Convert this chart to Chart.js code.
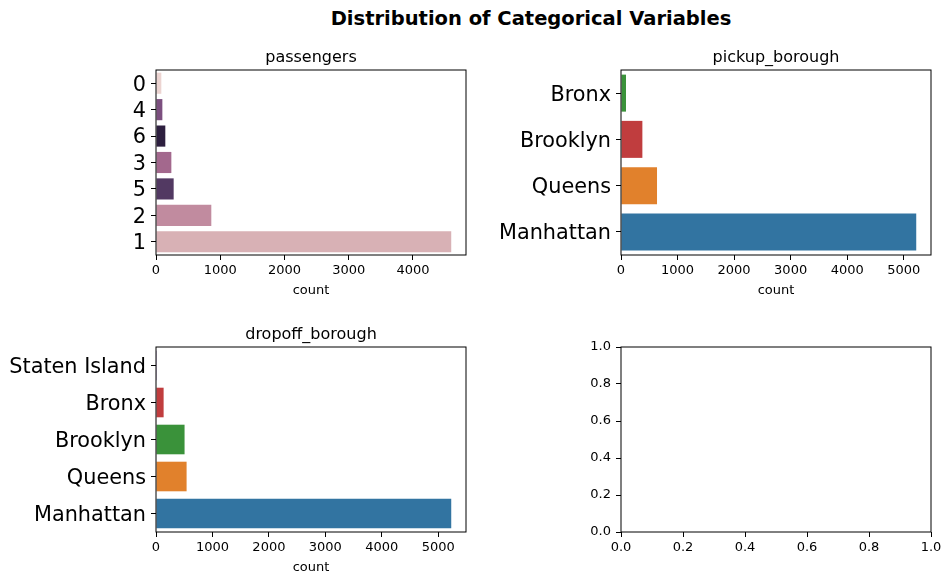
<!DOCTYPE html>
<html>
<head>
<meta charset="utf-8">
<script src="https://cdn.jsdelivr.net/npm/chart.js@4.4.0/dist/chart.umd.min.js"></script>
<style>
  body { margin: 0; background: #fff; }
  #wrap { position: relative; width: 952px; height: 585px; overflow: hidden; }
  canvas { position: absolute; }
  #suptitle {
    position: absolute; left: 531px; top: 9px; transform: translateX(-50%);
    font: bold 19.5px "DejaVu Sans"; line-height: 19px; white-space: nowrap; color: #000;
  }
</style>
</head>
<body>
<div id="wrap">
  <div id="suptitle">Distribution of Categorical Variables</div>
  <canvas id="c1"></canvas>
  <canvas id="c2"></canvas>
  <canvas id="c3"></canvas>
  <canvas id="c4"></canvas>
</div>
<script>
// data
const passengerLabels = ['0', '4', '6', '3', '5', '2', '1'];
const passengerCounts = [83, 99, 145, 239, 275, 861, 4596];
const passengerColors = ['#ecd4d1', '#7c4f7f', '#2d1f3f', '#a3688d', '#523962', '#c18b9f', '#d8b1b5'];

const pickupLabels = ['Bronx', 'Brooklyn', 'Queens', 'Manhattan'];
const pickupCounts = [88, 378, 637, 5221];
const pickupColors = ['#3a923a', '#c03d3e', '#e1812c', '#3274a1'];

const dropoffLabels = ['Staten Island', 'Bronx', 'Brooklyn', 'Queens', 'Manhattan'];
const dropoffCounts = [2, 135, 506, 542, 5230];
const dropoffColors = ['#9372b2', '#c03d3e', '#3a923a', '#e1812c', '#3274a1'];

const countTicks = [0, 1000, 2000, 3000, 4000, 5000];
const unitTicks = [0, 0.2, 0.4, 0.6, 0.8, 1.0];

const FONT = 'DejaVu Sans';
const TOPH = 24, BH = 45;

// draws the full black frame like matplotlib spines
const frame = {
  id: 'frame',
  afterDraw(chart) {
    const a = chart.chartArea, c = chart.ctx;
    c.save();
    c.strokeStyle = '#000';
    c.lineWidth = 1;
    c.strokeRect(a.left, a.top, a.right - a.left, a.bottom - a.top);
    c.restore();
  }
};

function place(id, box, lw, rw) {
  const cv = document.getElementById(id);
  const w = box.right - box.left + lw + rw;
  const h = box.bottom - box.top + TOPH + BH;
  cv.width = w; cv.height = h;
  cv.style.left = (box.left - lw) + 'px';
  cv.style.top = (box.top - TOPH) + 'px';
  cv.style.width = w + 'px';
  cv.style.height = h + 'px';
  return cv;
}

function tickGrid() {
  return { drawOnChartArea: false, tickLength: 5, color: '#000', offset: false };
}

function fixedTicks(list) {
  return s => { s.ticks = list.filter(v => v <= s.max + 1e-9).map(v => ({ value: v })); };
}

function barChart(id, title, labels, values, colors, box, lw, rw) {
  const cv = place(id, box, lw, rw);
  return new Chart(cv, {
    type: 'bar',
    data: {
      labels: labels,
      datasets: [{ data: values, backgroundColor: colors, barPercentage: 0.8, categoryPercentage: 1.0 }]
    },
    options: {
      indexAxis: 'y',
      responsive: false,
      animation: false,
      devicePixelRatio: 1,
      layout: { padding: { left: 0, top: 0, right: rw, bottom: 0 } },
      plugins: {
        legend: { display: false },
        tooltip: { enabled: false },
        title: {
          display: true, fullSize: false, text: title, color: '#000',
          font: { family: FONT, size: 16, weight: 'normal', lineHeight: 1.2 },
          padding: { top: 2, bottom: 2.8 }
        }
      },
      scales: {
        x: {
          type: 'linear', min: 0, max: Math.max(...values) * 1.05,
          afterBuildTicks: fixedTicks(countTicks),
          afterFit: s => { s.height = BH; },
          ticks: { color: '#000', font: { family: FONT, size: 13 }, padding: 3,
                   maxRotation: 0, autoSkip: false, callback: v => String(v) },
          grid: tickGrid(),
          border: { display: false },
          title: { display: true, text: 'count', color: '#000', font: { family: FONT, size: 13 },
                   padding: { top: 0, bottom: 2 } }
        },
        y: {
          type: 'category', offset: true,
          afterFit: s => { s.width = lw; },
          ticks: { color: '#000', font: { family: FONT, size: 20.8 }, padding: 5, autoSkip: false, labelOffset: 2 },
          grid: tickGrid(),
          border: { display: false }
        }
      }
    },
    plugins: [frame]
  });
}

barChart('c1', 'passengers', passengerLabels, passengerCounts, passengerColors,
  { left: 156, top: 70, right: 466, bottom: 255 }, 156, 20);
barChart('c2', 'pickup_borough', pickupLabels, pickupCounts, pickupColors,
  { left: 621, top: 70, right: 931, bottom: 255 }, 140, 21);
barChart('c3', 'dropoff_borough', dropoffLabels, dropoffCounts, dropoffColors,
  { left: 156, top: 347, right: 466, bottom: 532 }, 156, 20);

// empty fourth axes
(function () {
  const box = { left: 621, top: 347, right: 931, bottom: 532 };
  const lw = 60, rw = 21;
  const cv = place('c4', box, lw, rw);
  const unitAxis = (isX) => ({
    type: 'linear', min: 0, max: 1,
    afterBuildTicks: fixedTicks(unitTicks),
    afterFit: s => { if (isX) s.height = BH; else s.width = lw; },
    ticks: { color: '#000', font: { family: FONT, size: 13 }, padding: isX ? 3 : 5,
             maxRotation: 0, autoSkip: false, callback: v => v.toFixed(1) },
    grid: tickGrid(),
    border: { display: false }
  });
  new Chart(cv, {
    type: 'scatter',
    data: { datasets: [{ data: [] }] },
    options: {
      responsive: false,
      animation: false,
      devicePixelRatio: 1,
      layout: { padding: { left: 0, top: TOPH, right: rw, bottom: 0 } },
      plugins: { legend: { display: false }, tooltip: { enabled: false } },
      scales: { x: unitAxis(true), y: unitAxis(false) }
    },
    plugins: [frame]
  });
})();
</script>
</body>
</html>
